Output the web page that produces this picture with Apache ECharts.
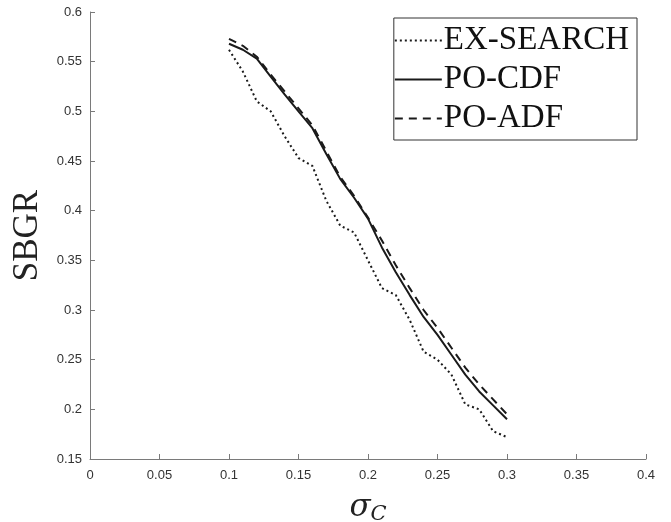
<!DOCTYPE html>
<html>
<head>
<meta charset="utf-8">
<script src="https://cdn.jsdelivr.net/npm/echarts@6/dist/echarts.min.js"></script>
<style>
  html, body { margin: 0; padding: 0; background: #fff; }
  #chart { width: 671px; height: 522px; }
</style>
</head>
<body>
<div id="chart"></div>
<script>
const sigmaC = [0.1, 0.11, 0.12, 0.13, 0.14, 0.15, 0.16, 0.17, 0.18, 0.19, 0.2,
  0.21, 0.22, 0.23, 0.24, 0.25, 0.26, 0.27, 0.28, 0.29, 0.3];
const exSearch = [0.562, 0.54, 0.51, 0.5, 0.475, 0.453, 0.445, 0.41, 0.385, 0.378, 0.35,
  0.322, 0.315, 0.29, 0.258, 0.25, 0.235, 0.205, 0.2, 0.178, 0.172];
const poCdf = [0.568, 0.562, 0.553, 0.535, 0.517, 0.5, 0.483, 0.457, 0.432, 0.413, 0.392,
  0.363, 0.338, 0.315, 0.293, 0.275, 0.255, 0.235, 0.218, 0.204, 0.19];
const poAdf = [0.573, 0.566, 0.555, 0.537, 0.52, 0.503, 0.486, 0.46, 0.434, 0.415, 0.393,
  0.37, 0.345, 0.322, 0.3, 0.282, 0.262, 0.242, 0.225, 0.21, 0.195];

const pairs = ys => sigmaC.map((x, i) => [x, ys[i]]);

const chart = echarts.init(document.getElementById("chart"));

const axisCommon = {
  axisLine: { lineStyle: { color: "#7a7a7a", width: 1 } },
  axisTick: { inside: true, length: 5, lineStyle: { color: "#7a7a7a" } },
  axisLabel: { color: "#333", fontSize: 13, fontFamily: "Liberation Sans, Arial, sans-serif" },
  splitLine: { show: false }
};

function lineSeries(name, data, type) {
  return {
    name,
    type: "line",
    data: pairs(data),
    symbol: "none",
    smooth: false,
    lineStyle: { color: "#1a1a1a", width: 2, type },
    itemStyle: { color: "#1a1a1a" }
  };
}

chart.setOption({
  animation: false,
  grid: { left: 90, right: 25, top: 12, bottom: 63, outerBoundsMode: "none" },
  xAxis: Object.assign({}, axisCommon, {
    type: "value",
    min: 0, max: 0.4, interval: 0.05,
    name: "{s|σ}{c|C}",
    nameLocation: "middle",
    nameGap: 31,
    nameTextStyle: {
      rich: {
        s: { fontSize: 31, fontFamily: "DejaVu Serif, serif", fontStyle: "italic", color: "#222" },
        c: { fontSize: 21, fontFamily: "DejaVu Serif, serif", fontStyle: "italic", color: "#222", padding: [14, 0, 0, 0] }
      }
    },
    axisLabel: Object.assign({}, axisCommon.axisLabel, { margin: 10 })
  }),
  yAxis: Object.assign({}, axisCommon, {
    type: "value",
    min: 0.15, max: 0.6, interval: 0.05,
    name: "SBGR",
    nameLocation: "middle",
    nameGap: 44,
    nameTextStyle: { fontSize: 35, fontFamily: "Liberation Serif, DejaVu Serif, serif", color: "#222" },
    axisLabel: Object.assign({}, axisCommon.axisLabel, { margin: 8 })
  }),
  legend: {
    orient: "vertical",
    right: 34,
    top: 18,
    padding: [6, 8, 5, 0],
    itemGap: 6,
    itemWidth: 47,
    itemHeight: 14,
    itemStyle: { opacity: 0 },
    borderColor: "#333",
    borderWidth: 1,
    textStyle: { fontSize: 33, lineHeight: 33, fontFamily: "Liberation Serif, DejaVu Serif, serif", color: "#111", padding: [0, 0, 0, -3] },
    data: ["EX-SEARCH", "PO-CDF", "PO-ADF"]
  },
  series: [
    lineSeries("EX-SEARCH", exSearch, [2, 3]),
    lineSeries("PO-CDF", poCdf, "solid"),
    lineSeries("PO-ADF", poAdf, [8, 6])
  ]
});
</script>
</body>
</html>
